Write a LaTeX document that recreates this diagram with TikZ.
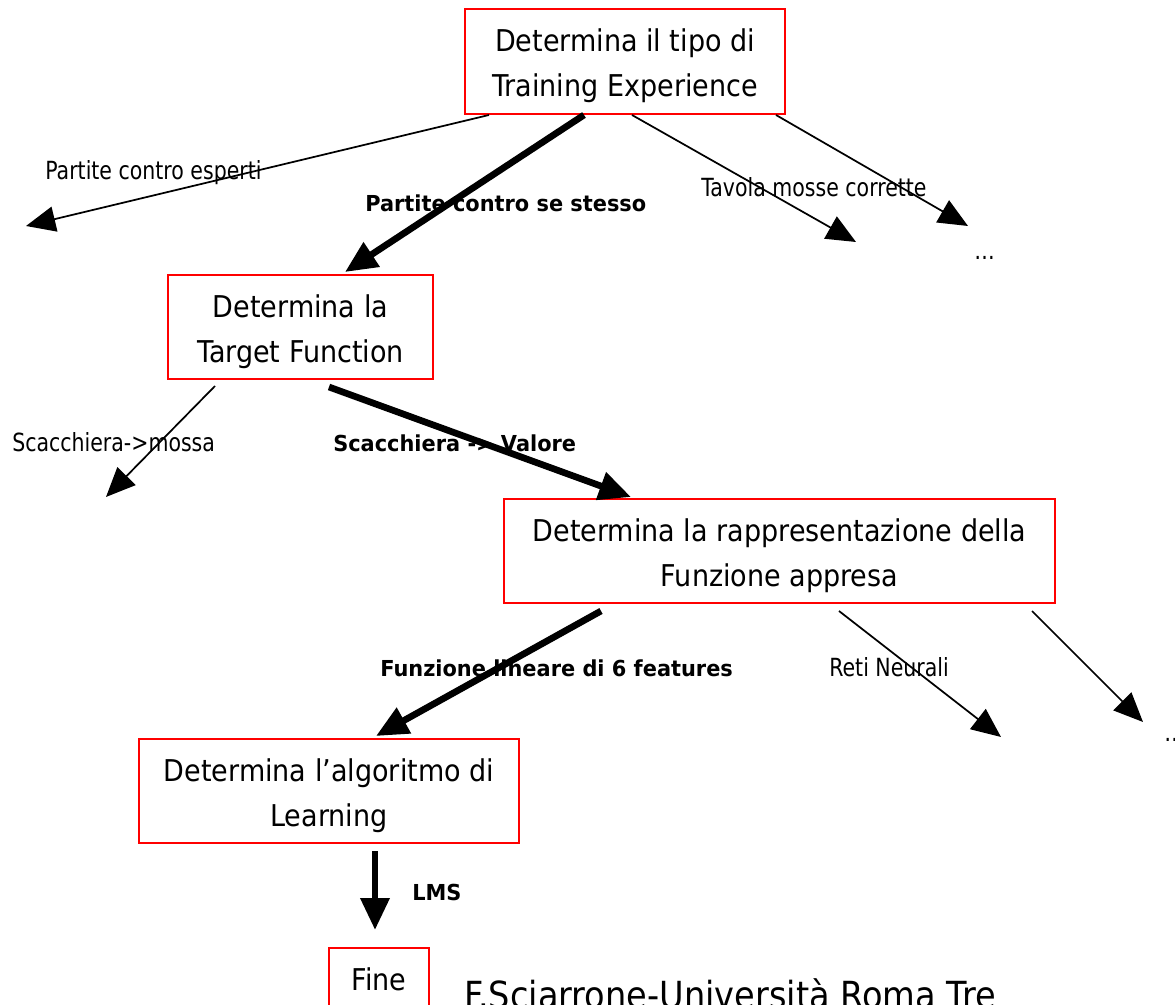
\documentclass[tikz,border=0pt]{standalone}
\usepackage{fontspec}
\setmainfont[FakeStretch=0.9]{DejaVu Sans}
\newfontfamily\boldlabfont[FakeStretch=0.95]{DejaVu Sans}
\newfontfamily\narrowfont[FakeStretch=0.82]{DejaVu Sans}
\usetikzlibrary{arrows.meta,calc}
\newcommand\toppad{\rule{0pt}{24pt}}
\begin{document}
\begin{tikzpicture}[x=0.75pt,y=-0.75pt,
  box/.style={draw=red, line width=1.5pt, align=center, inner sep=0pt,
    font=\fontsize{22.5}{33.75}\selectfont},
  thinarr/.style={line width=1.3pt, -{Triangle[length=22pt,width=19pt]}},
  thickarr/.style={line width=5pt, -{Triangle[length=24pt,width=21pt]}},
  lab/.style={anchor=base west, inner sep=0pt, font=\narrowfont\fontsize{18.75}{22}\selectfont},
  blab/.style={anchor=base west, inner sep=0pt, font=\boldlabfont\bfseries\fontsize{16.5}{20}\selectfont}]
\useasboundingbox[fill=white] (0,0) rectangle (1175,1005);

% boxes
\node[box, minimum width=240pt, minimum height=78.75pt] (b1) at (625,61.5)
  {\toppad Determina il tipo di\\Training Experience};
\node[box, minimum width=198.75pt, minimum height=78pt] (b2) at (300.5,327)
  {\toppad Determina la\\Target Function};
\node[box, minimum width=413.25pt, minimum height=78pt] (b3) at (779.5,551)
  {\toppad Determina la rappresentazione della\\Funzione appresa};
\node[box, minimum width=285pt, minimum height=78pt] (b4) at (329,791)
  {\toppad Determina l’algoritmo di\\Learning};
\node[box, anchor=north, minimum width=75pt, text height=31.5pt, text depth=45pt] (fine) at (379,947) {Fine};

% free ends
\coordinate (pe) at (26,226);
\coordinate (tm) at (856,242);
\coordinate (d1) at (968,226);
\coordinate (sm) at (106,497);
\coordinate (rn) at (1001,737);
\coordinate (d2) at (1143,722);

% connectors
\draw[thinarr] ([shift={(25,0)}]b1.south west) -- (pe);
\draw[thickarr] ([shift={(120,0)}]b1.south west) -- ([shift={(178,-2)}]b2.north west);
\draw[thinarr] ([shift={(168,0)}]b1.south west) -- (tm);
\draw[thinarr] ([shift={(312,0)}]b1.south west) -- (d1);

\draw[thinarr] ([shift={(48,6)}]b2.south west) -- (sm);
\draw[thickarr] ([shift={(162,7)}]b2.south west) -- ([shift={(128,-1)}]b3.north west);

\draw[thickarr] ([shift={(98,7)}]b3.south west) -- ([shift={(238,-2)}]b4.north west);
\draw[thinarr] ([shift={(336,7)}]b3.south west) -- (rn);
\draw[thinarr] ([shift={(529,7)}]b3.south west) -- (d2);

\coordinate (ls) at ([shift={(237,7)}]b4.south west);
\draw[thickarr] (ls) -- ($(ls |- fine.north)+(0,-17)$);

% labels
\node[lab] (l1) at (45,180) {Partite contro esperti};
\node[blab] (l2) at (365,212) {Partite contro se stesso};
\node[lab] (l3) at (701,197) {Tavola mosse corrette};
\node[lab] (l4) at (974,260) {…};
\node[lab] (l5) at (12,452) {Scacchiera->mossa};
\node[blab] (l6) at (333,452) {Scacchiera -> Valore};
\node[blab] (l7) at (380,676) {Funzione lineare di 6 features};
\node[lab] (l8) at (829,676) {Reti Neurali};
\node[lab] (l9) at (1164,741) {…};
\node[blab] (l10) at (412,900) {LMS};
\node[anchor=base west, inner sep=0pt, font=\fontsize{28}{32}\selectfont] (foot) at (464,1008)
  {F.Sciarrone-Università Roma Tre};
\end{tikzpicture}
\end{document}
